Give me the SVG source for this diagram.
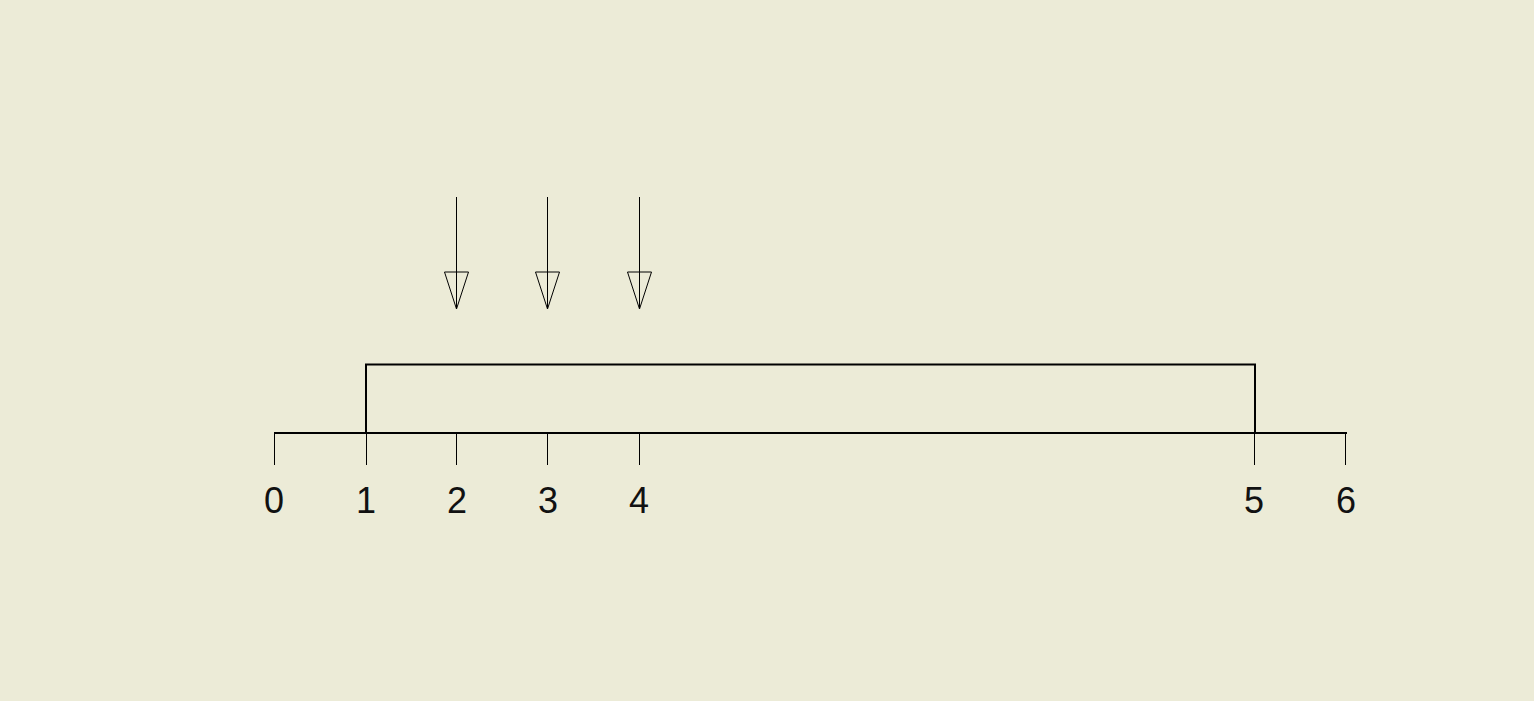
<svg xmlns="http://www.w3.org/2000/svg" width="1534" height="701" viewBox="0 0 1534 701">
<style>
.axis{stroke:#000;stroke-width:2;fill:none}
.tick{stroke:#000;stroke-width:1;fill:none}
.arrow{stroke:#000;stroke-width:1;fill:none}
.lbl{font-family:"Liberation Sans",Arial,sans-serif;font-size:36px;fill:#111;text-anchor:middle}
</style>
<rect width="1534" height="701" fill="#ECEBD7"/>
<g id="connectors">
<g id="arrow2"><line class="arrow" x1="456.5" y1="197" x2="456.5" y2="308"/><polygon class="arrow" points="444.5,272 468.5,272 456.5,309"/></g>
<g id="arrow3"><line class="arrow" x1="547.5" y1="197" x2="547.5" y2="308"/><polygon class="arrow" points="535.5,272 559.5,272 547.5,309"/></g>
<g id="arrow4"><line class="arrow" x1="639.5" y1="197" x2="639.5" y2="308"/><polygon class="arrow" points="627.5,272 651.5,272 639.5,309"/></g>
</g>
<g id="interval"><polyline class="axis" points="366,433 366,364.5 1255,364.5 1255,433"/></g>
<g id="axis">
<line class="axis" x1="274" y1="433" x2="1347" y2="433"/>
<line class="tick" x1="274.5" y1="433" x2="274.5" y2="465"/>
<line class="tick" x1="366.5" y1="433" x2="366.5" y2="465"/>
<line class="tick" x1="456.5" y1="433" x2="456.5" y2="465"/>
<line class="tick" x1="547.5" y1="433" x2="547.5" y2="465"/>
<line class="tick" x1="639.5" y1="433" x2="639.5" y2="465"/>
<line class="tick" x1="1254.5" y1="433" x2="1254.5" y2="465"/>
<line class="tick" x1="1345.5" y1="433" x2="1345.5" y2="465"/>
</g>
<g id="labels">
<text class="lbl" x="274" y="513">0</text>
<text class="lbl" x="366" y="513">1</text>
<text class="lbl" x="457" y="513">2</text>
<text class="lbl" x="548" y="513">3</text>
<text class="lbl" x="639" y="513">4</text>
<text class="lbl" x="1254" y="513">5</text>
<text class="lbl" x="1346" y="513">6</text>
</g>
</svg>
